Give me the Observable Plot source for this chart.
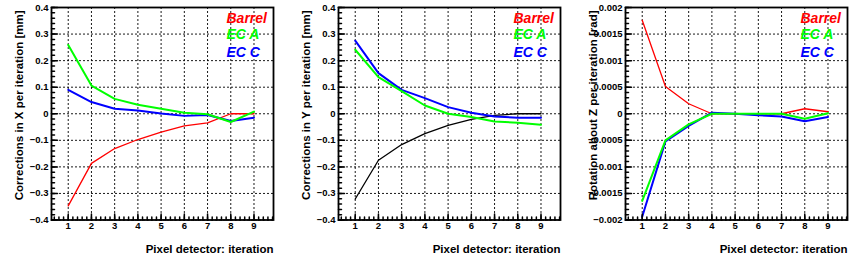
<!DOCTYPE html>
<html><head><meta charset="utf-8">
<script src="https://cdn.jsdelivr.net/npm/d3@7"></script>
<script src="https://cdn.jsdelivr.net/npm/@observablehq/plot@0.6"></script>
<style>
body{margin:0;background:#fff}
#row{display:flex;width:861px;height:261px;overflow:hidden}
#row svg{flex:0 0 auto}
</style></head><body><div id="row"></div>
<script>
// ---- data ----
const iterations = [1, 2, 3, 4, 5, 6, 7, 8, 9];
const xTickLabels = ["1", "2", "3", "4", "5", "6", "7", "8", "9"];

const xBarrel = [-0.347, -0.187, -0.131, -0.097, -0.069, -0.046, -0.034, 0.0, 0.0];
const xECA    = [0.259, 0.106, 0.056, 0.034, 0.019, 0.004, -0.002, -0.031, 0.008];
const xECC    = [0.090, 0.044, 0.019, 0.012, 0.001, -0.008, -0.005, -0.027, -0.015];

const yBarrel = [-0.321, -0.175, -0.116, -0.075, -0.044, -0.021, -0.006, 0.0, 0.0];
const yECA    = [0.241, 0.138, 0.085, 0.031, 0.0, -0.012, -0.029, -0.034, -0.041];
const yECC    = [0.275, 0.153, 0.090, 0.059, 0.025, 0.004, -0.010, -0.015, -0.015];

const rzBarrel = [0.00176, 0.000513, 0.000188, 0.0, 0.0, 0.0, 0.0, 0.000094, 0.0000375];
const rzECA    = [-0.00164, -0.0005, -0.0002, 0.0, 0.0, 0.0, 0.0, -0.000094, 0.00001];
const rzECC    = [-0.00194, -0.00052, -0.00023, 0.00002, 0.0, -0.00003, -0.00005, -0.00014, -0.00006];

const mmTicks = [-0.4, -0.3, -0.2, -0.1, 0, 0.1, 0.2, 0.3, 0.4];
const mmTickLabels = ["\u22120.4", "\u22120.3", "\u22120.2", "\u22120.1", "0", "0.1", "0.2", "0.3", "0.4"];
const radTicks = [-0.002, -0.0015, -0.001, -0.0005, 0, 0.0005, 0.001, 0.0015, 0.002];
const radTickLabels = ["\u22120.002", "\u22120.0015", "\u22120.001", "\u22120.0005", "0", "0.0005", "0.001", "0.0015", "0.002"];

const legendLabels = ["Barrel", "EC A", "EC C"];
const legendColors = ["#ff0000", "#00ff00", "#0000ff"];
const xTitle = "Pixel detector: iteration";

// ---- drawing ----
const FONT = "'Liberation Sans', Arial, Helvetica, sans-serif";
const tickShape = {draw(ctx, l) { ctx.moveTo(0, 0); ctx.lineTo(0, -l); }};

function panel({ytitle, lines, yDomain, yTicks, yLabels, minorStep}) {
  const xDomain = [0.28, 9.84];
  const yMinor = d3.range(Math.round(yDomain[0] / minorStep), Math.round(yDomain[1] / minorStep) + 1).map(i => i * minorStep);
  const xMinor = d3.range(1, 50).map(i => i * 0.2).filter(v => v > xDomain[0] && v < xDomain[1]);
  const lineMarks = lines.map(({values, color, width}) =>
    Plot.line(iterations.map((it, i) => ({it, v: values[i]})), {x: "it", y: "v", stroke: color, strokeWidth: width})
  );
  const legendDy = [15, 31, 49];
  return Plot.plot({
    width: 287, height: 261,
    marginLeft: 51, marginRight: 14, marginTop: 7, marginBottom: 41.5,
    x: {domain: xDomain, label: null},
    y: {domain: yDomain, label: null},
    style: {fontFamily: FONT, fontSize: "9.5px", fontWeight: "bold", background: "white", overflow: "visible", color: "#000"},
    marks: [
      Plot.gridX(iterations, {stroke: "#000", strokeOpacity: 0.9, strokeDasharray: "2,2"}),
      Plot.gridY(yTicks, {stroke: "#000", strokeOpacity: 0.9, strokeDasharray: "2,2"}),
      ...lineMarks,
      Plot.vector(yMinor, {y: d => d, frameAnchor: "left", rotate: 90, length: 3, anchor: "start", shape: tickShape, stroke: "#000"}),
      Plot.vector(yTicks, {y: d => d, frameAnchor: "left", rotate: 90, length: 6, anchor: "start", shape: tickShape, stroke: "#000"}),
      Plot.vector(xMinor, {x: d => d, frameAnchor: "bottom", rotate: 0, length: 3, anchor: "start", shape: tickShape, stroke: "#000"}),
      Plot.vector(iterations, {x: d => d, frameAnchor: "bottom", rotate: 0, length: 6, anchor: "start", shape: tickShape, stroke: "#000"}),
      Plot.frame({stroke: "#000", strokeWidth: 1.8}),
      Plot.axisX(iterations, {tickSize: 0, tickPadding: 2.5, label: null, tickFormat: d => xTickLabels[iterations.indexOf(d)]}),
      Plot.axisY(yTicks, {tickSize: 0, tickPadding: 3, label: null, tickFormat: d => yLabels[yTicks.indexOf(d)]}),
      Plot.text([ytitle], {frameAnchor: "top-left", rotate: -90, textAnchor: "end", lineAnchor: "bottom", dx: -28.8, dy: 3, fontSize: 11.5, fontWeight: "bold", fill: "#000"}),
      Plot.text([xTitle], {frameAnchor: "bottom-right", textAnchor: "end", lineAnchor: "bottom", dy: 32.5, fontSize: 11.5, fontWeight: "bold", fill: "#000"}),
      ...legendLabels.map((lab, i) =>
        Plot.text([lab], {frameAnchor: "top-left", textAnchor: "start", lineAnchor: "bottom", dx: 175, dy: legendDy[i], fontSize: 14, fontWeight: "bold", fontStyle: "italic", fill: legendColors[i]})
      )
    ]
  });
}

const row = document.getElementById("row");
row.appendChild(panel({
  ytitle: "Corrections in X per iteration [mm]",
  yDomain: [-0.4, 0.4], yTicks: mmTicks, yLabels: mmTickLabels, minorStep: 0.02,
  lines: [
    {values: xBarrel, color: "#ff0000", width: 1.3},
    {values: xECC, color: "#0000ff", width: 2},
    {values: xECA, color: "#00ff00", width: 2}
  ]
}));
row.appendChild(panel({
  ytitle: "Corrections in Y per iteration [mm]",
  yDomain: [-0.4, 0.4], yTicks: mmTicks, yLabels: mmTickLabels, minorStep: 0.02,
  lines: [
    {values: yBarrel, color: "#000000", width: 1.3},
    {values: yECC, color: "#0000ff", width: 2},
    {values: yECA, color: "#00ff00", width: 2}
  ]
}));
row.appendChild(panel({
  ytitle: "Rotation about Z per iteration [rad]",
  yDomain: [-0.002, 0.002], yTicks: radTicks, yLabels: radTickLabels, minorStep: 0.0001,
  lines: [
    {values: rzBarrel, color: "#ff0000", width: 1.3},
    {values: rzECC, color: "#0000ff", width: 2},
    {values: rzECA, color: "#00ff00", width: 2}
  ]
}));
</script>
</body></html>
